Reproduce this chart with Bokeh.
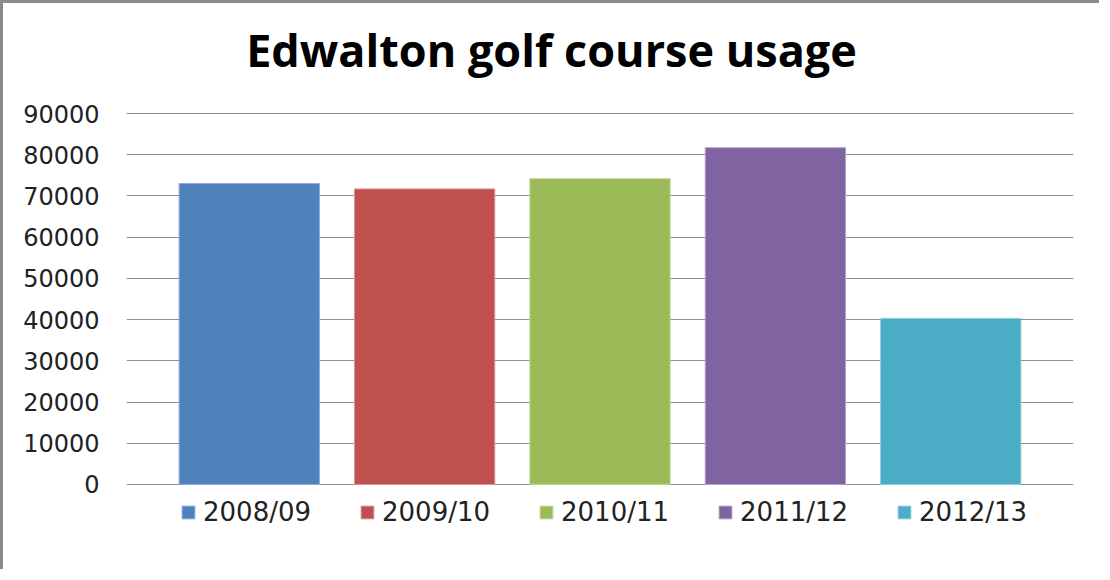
from bokeh.plotting import figure
from bokeh.models import ColumnDataSource, Range1d, FixedTicker, Label
from bokeh.embed import file_html
from bokeh.resources import INLINE

seasons = ["2008/09", "2009/10", "2010/11", "2011/12", "2012/13"]
usage = [73000, 71700, 74200, 81700, 40300]
colors = ["#4F81BD", "#C0504D", "#9BBB59", "#8064A2", "#4BACC6"]
edges = ["#8EAADB", "#D99694", "#C3D69B", "#B2A2C7", "#93CDDD"]
y_ticks = [0, 10000, 20000, 30000, 40000, 50000, 60000, 70000, 80000, 90000]
title_text = "Edwalton golf course usage"

src = ColumnDataSource(dict(
    x=[i + 0.5 for i in range(len(seasons))],
    season=seasons, usage=usage, color=colors, edge=edges,
))

# frame spans 10px..559px; value 90000 sits at 110px and 0 at 481px
p = figure(width=1099, height=569, output_backend="svg", toolbar_location=None,
           x_range=Range1d(-0.2, 5.2), y_range=Range1d(-18922, 114259),
           min_border_left=123, min_border_right=29, min_border_top=10,
           min_border_bottom=10,
           styles={"border-left": "3px solid #8c8c8c", "border-top": "3px solid #8c8c8c"})

p.vbar(x="x", top="usage", width=0.8, source=src, fill_color="color",
       line_color="edge", line_width=1, legend_field="season")

p.xaxis.visible = False
p.xgrid.visible = False
p.ygrid.grid_line_color = "#8c8c8c"
p.ygrid.grid_line_width = 1
p.yaxis.ticker = FixedTicker(ticks=y_ticks)
p.yaxis.axis_line_color = None
p.yaxis.major_tick_line_color = None
p.yaxis.minor_tick_line_color = None
p.yaxis.major_label_standoff = 21
p.yaxis.major_label_text_font = "DejaVu Sans"
p.yaxis.major_label_text_font_size = "24px"
p.yaxis.major_label_text_color = "#222222"
p.outline_line_color = None
p.ygrid.level = "underlay"

# title, frame-relative screen units
p.add_layout(Label(x=425, y=513, x_units="screen", y_units="screen",
                   text=title_text, text_align="center", text_baseline="alphabetic",
                   text_font="Open Sans", text_font_style="bold",
                   text_font_size="45px", text_color="#000000"))

leg = p.legend[0]
leg.orientation = "horizontal"
leg.location = (54, 35)
leg.glyph_width = 16
leg.glyph_height = 16
leg.label_standoff = 7
leg.spacing = 48
leg.margin = 0
leg.padding = 10
leg.border_line_color = None
leg.background_fill_alpha = 0
leg.label_text_font = "DejaVu Sans"
leg.label_text_font_size = "26px"
leg.label_text_color = "#222222"

open("out.html", "w").write(file_html(p, INLINE))
